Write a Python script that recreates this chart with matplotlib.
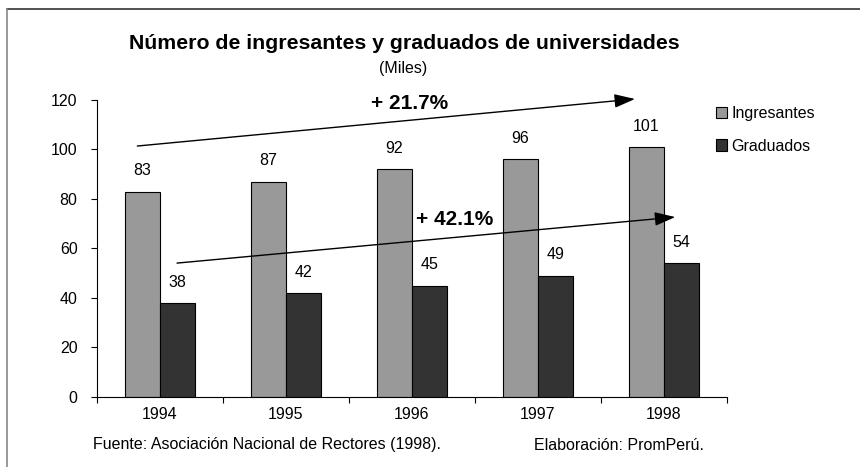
import numpy as np
import matplotlib.pyplot as plt
from matplotlib.lines import Line2D

plt.rcParams['font.family'] = ['Liberation Sans', 'DejaVu Sans']

### Data

years = ['1994', '1995', '1996', '1997', '1998']
ingresantes = [83, 87, 92, 96, 101]
graduados = [38, 42, 45, 49, 54]

title = 'Número de ingresantes y graduados de universidades'
subtitle = '(Miles)'
growth_ingresantes = '+ 21.7%'
growth_graduados = '+ 42.1%'
fuente = 'Fuente: Asociación Nacional de Rectores (1998).'
elaboracion = 'Elaboración: PromPerú.'

### Plotting

fs = 11.5

fig = plt.figure(figsize=(8.6, 4.67), dpi=100)
ax = fig.add_axes([0.1128, 0.1499, 0.7325, 0.636])

x = np.arange(len(years))
w = 0.28
ax.bar(x - w / 2, ingresantes, w, color='#999999', edgecolor='black', linewidth=0.8,
       label='Ingresantes')
ax.bar(x + w / 2, graduados, w, color='#333333', edgecolor='black', linewidth=0.8,
       label='Graduados')

# value labels above the bars
for xi, v in zip(x - w / 2, ingresantes):
    ax.annotate(str(v), (xi, v), xytext=(0, 15), textcoords='offset points',
                ha='center', va='center', fontsize=fs)
for xi, v in zip(x + w / 2, graduados):
    ax.annotate(str(v), (xi, v), xytext=(0, 15), textcoords='offset points',
                ha='center', va='center', fontsize=fs)

ax.set_xlim(-0.5, len(years) - 0.5)
ax.set_ylim(0, 120)
ax.set_yticks(range(0, 121, 20))
ax.set_xticks(np.arange(-0.5, len(years), 1.0))
ax.set_xticklabels([])
ax.set_xticks(x, minor=True)
ax.set_xticklabels(years, minor=True)
ax.tick_params(axis='x', which='minor', length=0, pad=7, labelsize=fs)
ax.tick_params(axis='x', which='major', length=4, direction='out', width=0.8)
ax.tick_params(axis='y', length=4, direction='out', width=0.8, labelsize=fs, pad=10)
for side in ['top', 'right']:
    ax.spines[side].set_visible(False)
ax.spines['left'].set_linewidth(0.8)
ax.spines['bottom'].set_linewidth(0.8)

# growth arrows
arrow = dict(arrowstyle='-|>,head_length=0.9,head_width=0.3', mutation_scale=14,
             lw=1, color='black', shrinkA=0, shrinkB=0)
ax.annotate('', xy=(3.77, 120.4), xytext=(-0.18, 101.4), arrowprops=arrow,
            annotation_clip=False)
ax.annotate('', xy=(4.09, 72.7), xytext=(0.135, 54.1), arrowprops=arrow,
            annotation_clip=False)
ax.text(1.98, 118.4, growth_ingresantes, ha='center', va='center',
        fontsize=15, fontweight='bold')
ax.text(2.34, 71.9, growth_graduados, ha='center', va='center',
        fontsize=15, fontweight='bold')

ax.legend(loc='upper left', bbox_to_anchor=(716 / 860, 1 - 106 / 467),
          bbox_transform=fig.transFigure, frameon=False, borderpad=0,
          borderaxespad=0, fontsize=fs, handlelength=0.7, handleheight=0.7,
          handletextpad=0.25, labelspacing=1.1)

fig.text(0.470, 0.906, title, ha='center', va='center', fontsize=15.3, fontweight='bold')
fig.text(0.469, 0.854, subtitle, ha='center', va='center', fontsize=fs)
fig.text(0.108, 1 - 445 / 467, fuente, ha='left', va='center', fontsize=fs)
fig.text(0.621, 1 - 445 / 467, elaboracion, ha='left', va='center', fontsize=fs)

# frame lines top and left
fig.add_artist(Line2D([7 / 860, 1], [1 - 9 / 467] * 2, color='#333333', lw=1.2))
fig.add_artist(Line2D([7 / 860] * 2, [0, 1 - 9 / 467], color='#888888', lw=1.2))

plt.savefig('out.png', dpi=100)
